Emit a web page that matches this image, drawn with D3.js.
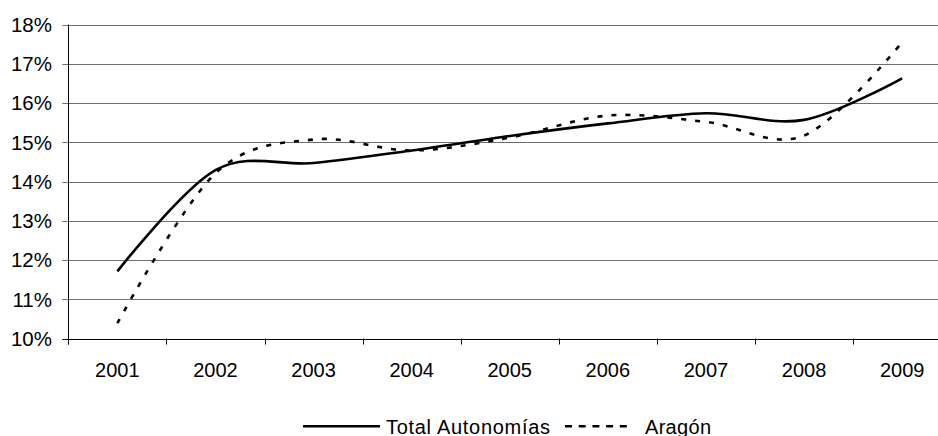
<!DOCTYPE html>
<html>
<head>
<meta charset="utf-8">
<script src="https://cdn.jsdelivr.net/npm/d3@7"></script>
<style>
  html, body { margin: 0; padding: 0; background: #fff; overflow: hidden; }
  svg { display: block; }
  text { font-family: "Liberation Sans", Arial, sans-serif; fill: #000; }
</style>
</head>
<body>
<svg id="chart" width="938" height="436"></svg>
<script>
const years = ["2001","2002","2003","2004","2005","2006","2007","2008","2009"];
const totalAutonomias = [11.71, 14.29, 14.47, 14.79, 15.16, 15.48, 15.74, 15.57, 16.63];
const aragon = [10.39, 14.21, 15.07, 14.79, 15.12, 15.68, 15.52, 15.17, 17.55];
const yTicks = [10, 11, 12, 13, 14, 15, 16, 17, 18];
const seriesNames = ["Total Autonomías", "Aragón"];

(function () {
const svg = d3.select("#chart");
const mLeft = 68.3, mTop = 24.5, mBottom = 338.5, band = 98.1;
const x = d3.scaleBand().domain(years).range([mLeft, mLeft + band * years.length]).padding(0);
const y = d3.scaleLinear().domain([10, 18]).range([mBottom, mTop]);

// gridlines
svg.append("g").selectAll("line").data(yTicks).join("line")
  .attr("x1", mLeft - 6).attr("x2", mLeft + band * years.length)
  .attr("y1", d => Math.round(y(d)) + 0.5).attr("y2", d => Math.round(y(d)) + 0.5)
  .attr("stroke", d => d === 10 ? "#000" : "#6e6e6e").attr("stroke-width", 1);

// y labels
svg.append("g").selectAll("text").data(yTicks).join("text")
  .attr("x", 52).attr("y", d => y(d)).attr("dy", "0.36em")
  .attr("text-anchor", "end").attr("font-size", 20.5)
  .text(d => d + "%");

// y axis line
svg.append("line").attr("x1", Math.round(mLeft) + 0.5).attr("x2", Math.round(mLeft) + 0.5)
  .attr("y1", mTop).attr("y2", mBottom + 6).attr("stroke", "#000");

// x ticks at band boundaries
const bounds = years.map(d => x(d)).concat([x(years[years.length-1]) + band]);
svg.append("g").selectAll("line").data(bounds).join("line")
  .attr("x1", d => Math.round(d) + 0.5).attr("x2", d => Math.round(d) + 0.5)
  .attr("y1", mBottom).attr("y2", mBottom + 6).attr("stroke", "#000");

// x labels
svg.append("g").selectAll("text").data(years).join("text")
  .attr("x", d => x(d) + band / 2).attr("y", 377)
  .attr("text-anchor", "middle").attr("font-size", 20)
  .text(d => d);

const line = d3.line()
  .x((d, i) => x(years[i]) + band / 2)
  .y(d => y(d))
  .curve(d3.curveCatmullRom.alpha(0));

svg.append("path").attr("d", line(totalAutonomias))
  .attr("fill", "none").attr("stroke", "#000").attr("stroke-width", 2.6);
svg.append("path").attr("d", line(aragon))
  .attr("fill", "none").attr("stroke", "#000").attr("stroke-width", 2.6)
  .attr("stroke-dasharray", "5,9");

// legend
const ly = 426.2;
svg.append("line").attr("x1", 303).attr("x2", 380).attr("y1", ly).attr("y2", ly)
  .attr("stroke", "#000").attr("stroke-width", 2.6);
svg.append("text").attr("x", 386).attr("y", 433.5).attr("font-size", 20)
  .attr("textLength", 164).attr("lengthAdjust", "spacing").text(seriesNames[0]);
svg.append("line").attr("x1", 565).attr("x2", 632).attr("y1", ly).attr("y2", ly)
  .attr("stroke", "#000").attr("stroke-width", 2.6).attr("stroke-dasharray", "7,6.7");
svg.append("text").attr("x", 645).attr("y", 433.5).attr("font-size", 20)
  .attr("textLength", 66).attr("lengthAdjust", "spacing").text(seriesNames[1]);
})();
</script>
</body>
</html>
